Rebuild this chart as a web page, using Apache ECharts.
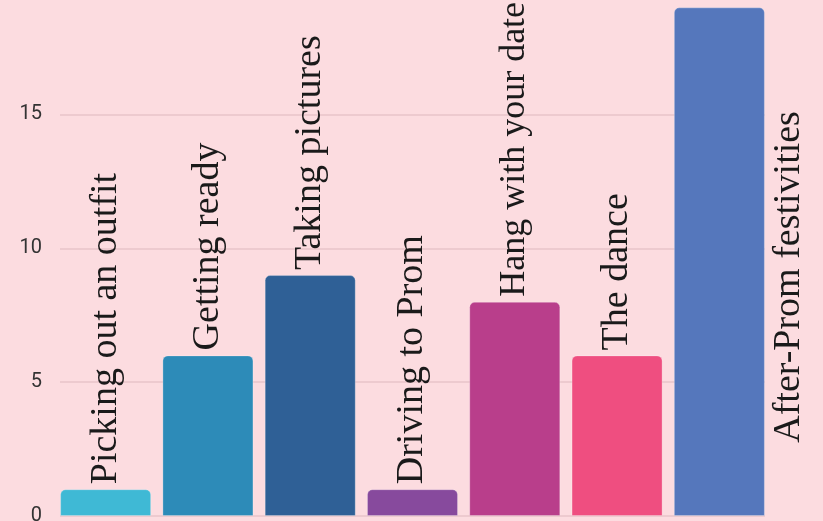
<!DOCTYPE html>
<html>
<head>
<meta charset="utf-8">
<script src="https://cdn.jsdelivr.net/npm/echarts@6/dist/echarts.min.js"></script>
<style>
html,body{margin:0;padding:0;background:#fcdce0;}
#c{width:823px;height:521px;}
</style>
</head>
<body>
<div id="c"></div>
<script>
const categories = ["Picking out an outfit","Getting ready","Taking pictures","Driving to Prom","Hang with your date","The dance","After-Prom festivities"];
const values = [1, 6, 9, 1, 8, 6, 19];
const colors = ["#3fb9d5","#2d8bb8","#2f6096","#874a9d","#b93e8b","#ef4e80","#5577bc"];

const chart = echarts.init(document.getElementById('c'));
const gridTop = -19.4, gridBottom = 5;

const data = values.map((v, i) => {
  const item = { value: v, itemStyle: { color: colors[i] } };
  if (i === values.length - 1) {
    item.label = { position: ['127%', '85.6%'] };
  }
  if (i === 4) {
    item.label = { fontSize: 36 };
  }
  return item;
});

chart.setOption({
  backgroundColor: '#fcdce0',
  animation: false,
  grid: [
    { left: 54.5, right: 52.5, top: gridTop, bottom: gridBottom, outerBoundsMode: 'none', containLabel: false },
    { left: 60, right: 58, top: gridTop, bottom: gridBottom, outerBoundsMode: 'none', containLabel: false }
  ],
  xAxis: [
    { type: 'category', gridIndex: 0, data: categories, show: false },
    { type: 'category', gridIndex: 1, data: categories, show: false }
  ],
  yAxis: [
    { type: 'value', gridIndex: 0, min: 0, max: 20, interval: 5, show: false },
    { type: 'value', gridIndex: 1, min: 0, max: 20, interval: 5,
      axisLine: { show: false }, axisTick: { show: false },
      axisLabel: { color: '#333', fontFamily: 'Roboto', fontSize: 20, margin: 18 },
      splitLine: { lineStyle: { color: '#e9c5ca', width: 1.5 } }
    }
  ],
  series: [{
    type: 'bar',
    xAxisIndex: 0, yAxisIndex: 0,
    data: data,
    barCategoryGap: '11%',
    itemStyle: { borderRadius: [5, 5, 0, 0], borderColor: 'rgba(255,255,255,0.25)', borderWidth: 1 },
    label: {
      show: true,
      position: 'top',
      distance: 5,
      rotate: 90,
      align: 'left',
      verticalAlign: 'middle',
      formatter: p => p.name,
      fontFamily: '"Liberation Serif", serif',
      fontSize: 38,
      color: '#1a1a1a'
    }
  }]
});
</script>
</body>
</html>
